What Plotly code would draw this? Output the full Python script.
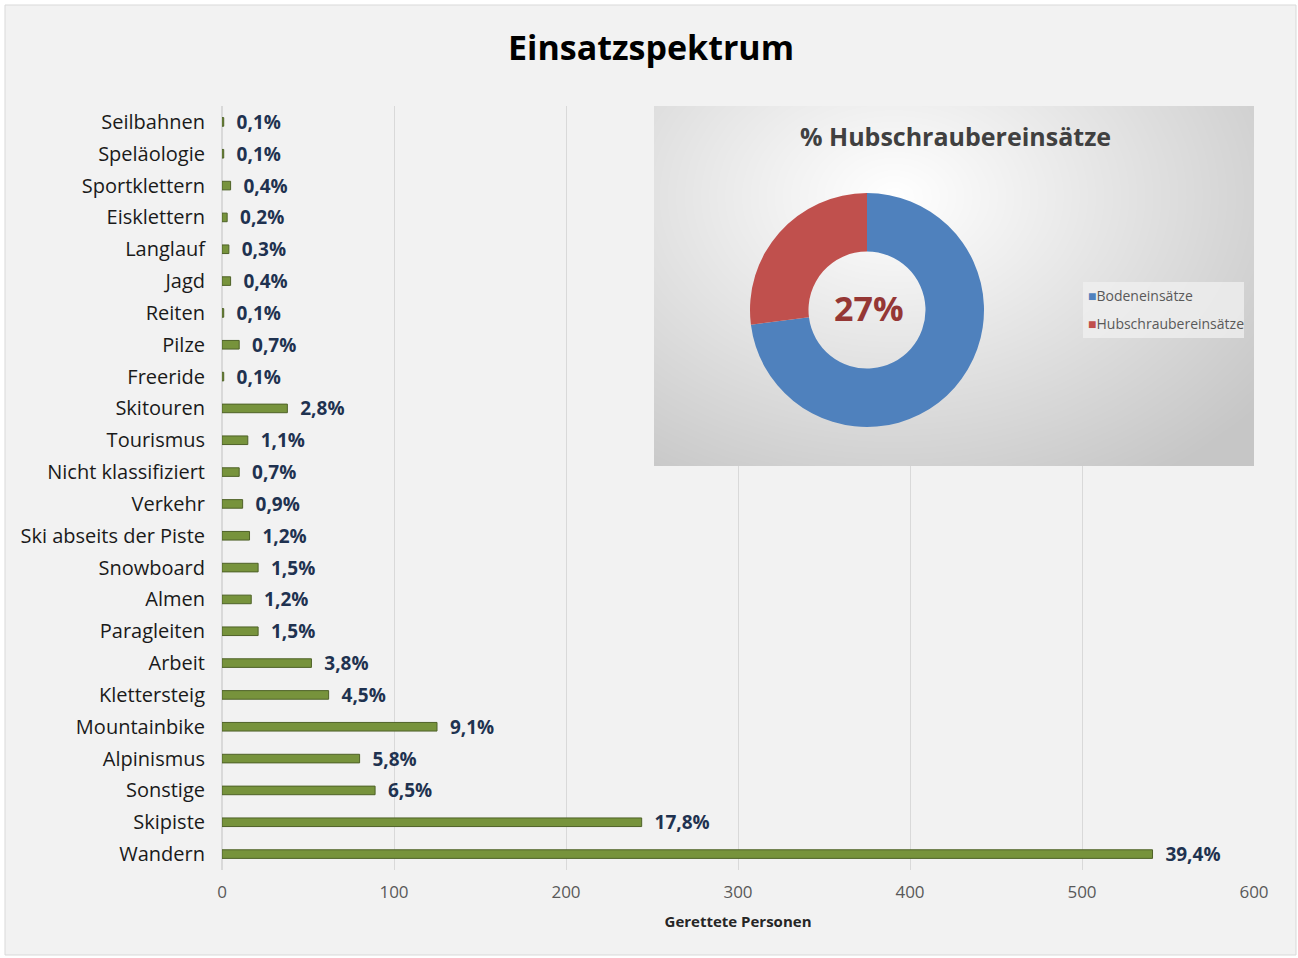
import numpy as np
import plotly.graph_objects as go

# ---- data ----
categories = ["Seilbahnen", "Speläologie", "Sportklettern", "Eisklettern", "Langlauf", "Jagd",
              "Reiten", "Pilze", "Freeride", "Skitouren", "Tourismus", "Nicht klassifiziert",
              "Verkehr", "Ski abseits der Piste", "Snowboard", "Almen", "Paragleiten", "Arbeit",
              "Klettersteig", "Mountainbike", "Alpinismus", "Sonstige", "Skipiste", "Wandern"]
persons = [1, 1, 5, 3, 4, 5, 1, 10, 1, 38, 15, 10, 12, 16, 21, 17, 21, 52, 62, 125, 80, 89, 244, 541]
pct_labels = ["0,1%", "0,1%", "0,4%", "0,2%", "0,3%", "0,4%", "0,1%", "0,7%", "0,1%", "2,8%",
              "1,1%", "0,7%", "0,9%", "1,2%", "1,5%", "1,2%", "1,5%", "3,8%", "4,5%", "9,1%",
              "5,8%", "6,5%", "17,8%", "39,4%"]
x_ticks = [0, 100, 200, 300, 400, 500, 600]

pie_labels = ["Bodeneinsätze", "Hubschraubereinsätze"]
pie_values = [73, 27]
pie_colors = ["#4F81BD", "#C0504D"]
pie_center_text = "27%"

FONT = "Open Sans"

fig = go.Figure()

# inset background gradient (styling only)
gx = np.linspace(0, 1, 60)
gy = np.linspace(0, 1, 40)
GX, GY = np.meshgrid(gx, gy)
grad = np.sqrt(((GX - 0.40) / 1.0) ** 2 + ((GY - 0.75) / 1.2) ** 2)
fig.add_trace(go.Heatmap(x=gx, y=gy, z=grad, xaxis="x2", yaxis="y2", zsmooth="best",
                         colorscale=[[0, "#ffffff"], [0.3, "#eeeeee"], [1, "#c6c6c6"]],
                         zmin=0, zmax=0.78, showscale=False, hoverinfo="skip"))

fig.add_trace(go.Bar(
    y=categories, x=persons, orientation="h", width=0.27,
    marker=dict(color="#77933C", line=dict(color="#4F6228", width=1)),
    text=["  " + t for t in pct_labels], textposition="outside", cliponaxis=False,
    constraintext="none",
    textfont=dict(family=FONT, size=19, color="#1F3250", weight="bold"),
    showlegend=False, hoverinfo="x+y"))

fig.add_trace(go.Pie(
    labels=pie_labels, values=pie_values, hole=0.5, sort=False, direction="clockwise",
    rotation=0, marker=dict(colors=pie_colors), textinfo="none", showlegend=False,
    domain=dict(x=[0.5116, 0.7384], y=[0.5798, 0.8861])))

L, R, T, B = 222, 44, 106, 88
W, H = 1298, 958
pw, ph = W - L - R, H - T - B

def px(x):
    return (x - L) / pw

def py(y):
    return (H - B - y) / ph

annotations = [
    dict(text="<b>% Hubschraubereinsätze</b>", xref="paper", yref="paper", x=px(955),
         y=py(136), xanchor="center", yanchor="middle", showarrow=False,
         font=dict(family=FONT, size=25, color="#404040")),
    dict(text="<b>" + pie_center_text + "</b>", xref="paper", yref="paper", x=px(869),
         y=py(308), xanchor="center", yanchor="middle", showarrow=False,
         font=dict(family=FONT, size=34, color="#953735")),
]
for i, (lab, col) in enumerate(zip(pie_labels, pie_colors)):
    annotations.append(dict(
        text="<span style='color:%s'>■</span>%s" % (col, lab), xref="paper", yref="paper",
        x=px(1086), y=py(295 + 28 * i), xanchor="left", yanchor="middle", showarrow=False,
        font=dict(family=FONT, size=14, color="#595959")))

fig.update_layout(
    width=W, height=H,
    margin=dict(l=L, r=R, t=T, b=B),
    paper_bgcolor="white", plot_bgcolor="rgba(0,0,0,0)",
    font=dict(family=FONT, color="#262626"),
    showlegend=False,
    title=dict(text="<b>Einsatzspektrum</b>", x=0.5016, xanchor="center", y=1 - 48 / H,
               yanchor="middle", font=dict(family=FONT, size=34, color="#000000")),
    xaxis=dict(range=[0, 600], tickvals=x_ticks, showgrid=True, gridcolor="#D9D9D9",
               gridwidth=1, zeroline=True, zerolinecolor="#D9D9D9", ticks="",
               ticklabelstandoff=10,
               tickfont=dict(family=FONT, size=17, color="#595959"),
               title=dict(text="<b>Gerettete Personen</b>", standoff=14,
                          font=dict(family=FONT, size=15, color="#262626"))),
    yaxis=dict(autorange="reversed", ticks="", showgrid=False, ticklabelstandoff=16,
               tickfont=dict(family=FONT, size=20, color="#1a1a1a")),
    xaxis2=dict(domain=[px(654), 1.0], range=[0, 1], visible=False, fixedrange=True),
    yaxis2=dict(domain=[py(466), 1.0], range=[0, 1], visible=False, fixedrange=True),
    shapes=[
        dict(type="rect", xref="paper", yref="paper", x0=px(5), x1=px(1296),
             y0=py(955), y1=py(5), fillcolor="#F2F2F2", line=dict(color="#D9D9D9", width=1),
             layer="below"),
        dict(type="rect", xref="paper", yref="paper", x0=px(1083), x1=px(1244),
             y0=py(338), y1=py(282), fillcolor="rgba(240,240,240,0.75)",
             line=dict(width=0), layer="above"),
    ],
    annotations=annotations,
)

fig.write_html("out.html", config={"displayModeBar": False},
               post_script="document.body.style.margin='0px';")
